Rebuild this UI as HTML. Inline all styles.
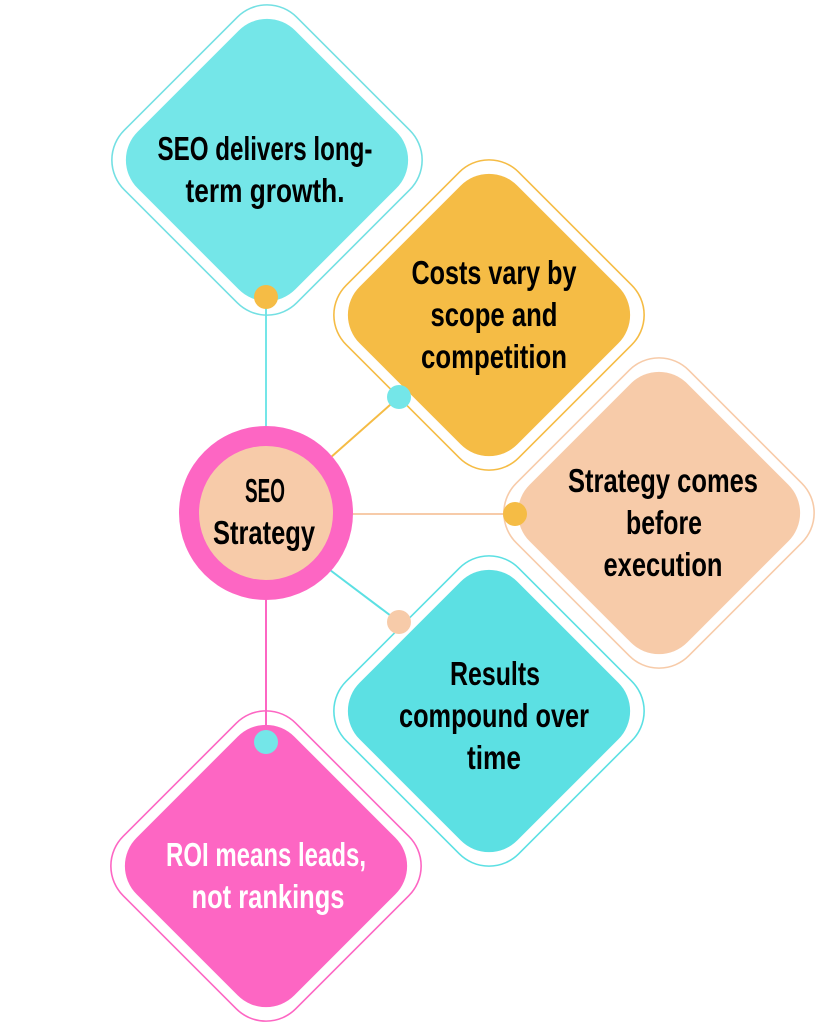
<!DOCTYPE html>
<html><head><style>
html,body{margin:0;padding:0;background:#fff;}
svg{display:block;}
text{font-family:"Liberation Sans",sans-serif;font-weight:bold;font-size:33px;text-anchor:middle;}
</style></head><body>
<svg width="819" height="1024" viewBox="0 0 819 1024">
<defs>
<g id="outer"><rect x="-122" y="-122" width="244" height="244" rx="42" transform="rotate(45)" fill="none" stroke-width="1.6"/></g>
<g id="inner"><rect x="-111.5" y="-111.5" width="223" height="223" rx="40" transform="rotate(45)"/></g>
</defs>
<line x1="266" y1="297" x2="266" y2="430" stroke="#74E6E8" stroke-width="2"/>
<line x1="330" y1="458" x2="399" y2="397" stroke="#F5BC45" stroke-width="2"/>
<line x1="352" y1="514" x2="515" y2="514" stroke="#F7CBA9" stroke-width="2"/>
<line x1="330" y1="570" x2="399" y2="622" stroke="#5CE0E3" stroke-width="2"/>
<line x1="266" y1="598" x2="266" y2="742" stroke="#FD66C3" stroke-width="2"/>

<g transform="translate(267,160)"><use href="#outer" stroke="#74E0E3"/><use href="#inner" fill="#74E6E8"/></g>
<g transform="translate(489,315)"><use href="#outer" stroke="#F5BC45"/><use href="#inner" fill="#F5BC45"/></g>
<g transform="translate(659,513)"><use href="#outer" stroke="#F7CBA9"/><use href="#inner" fill="#F7CBA9"/></g>
<g transform="translate(489,711)"><use href="#outer" stroke="#5CE0E3"/><use href="#inner" fill="#5CE0E3"/></g>
<g transform="translate(266,866)"><use href="#outer" stroke="#FD66C3"/><use href="#inner" fill="#FD66C3"/></g>

<circle cx="266" cy="513" r="87" fill="#FD66C3"/>
<circle cx="266" cy="513" r="67" fill="#F7CBA9"/>

<circle cx="266" cy="297" r="12" fill="#F5BC45"/>
<circle cx="399" cy="397" r="12" fill="#74E6E8"/>
<circle cx="515" cy="514" r="12" fill="#F5BC45"/>
<circle cx="399" cy="622" r="12" fill="#F7CBA9"/>
<circle cx="266" cy="742" r="12" fill="#74E6E8"/>

<text x="265" y="160" textLength="215" lengthAdjust="spacingAndGlyphs" fill="#000">SEO delivers long-</text>
<text x="265" y="202" textLength="159" lengthAdjust="spacingAndGlyphs" fill="#000">term growth.</text>
<text x="494" y="284" textLength="165" lengthAdjust="spacingAndGlyphs" fill="#000">Costs vary by</text>
<text x="494" y="326" textLength="127" lengthAdjust="spacingAndGlyphs" fill="#000">scope and</text>
<text x="494" y="368" textLength="146" lengthAdjust="spacingAndGlyphs" fill="#000">competition</text>
<text x="663" y="492" textLength="190" lengthAdjust="spacingAndGlyphs" fill="#000">Strategy comes</text>
<text x="664" y="534" textLength="76" lengthAdjust="spacingAndGlyphs" fill="#000">before</text>
<text x="663" y="576" textLength="119" lengthAdjust="spacingAndGlyphs" fill="#000">execution</text>
<text x="495" y="685" textLength="90" lengthAdjust="spacingAndGlyphs" fill="#000">Results</text>
<text x="494" y="727" textLength="190" lengthAdjust="spacingAndGlyphs" fill="#000">compound over</text>
<text x="494" y="769" textLength="54" lengthAdjust="spacingAndGlyphs" fill="#000">time</text>
<text x="266" y="866" textLength="200" lengthAdjust="spacingAndGlyphs" fill="#fff">ROI means leads,</text>
<text x="268" y="908" textLength="153" lengthAdjust="spacingAndGlyphs" fill="#fff">not rankings</text>
<text x="265" y="502" textLength="40" lengthAdjust="spacingAndGlyphs" fill="#000">SEO</text>
<text x="264" y="544" textLength="102" lengthAdjust="spacingAndGlyphs" fill="#000">Strategy</text>
</svg>
</body></html>
